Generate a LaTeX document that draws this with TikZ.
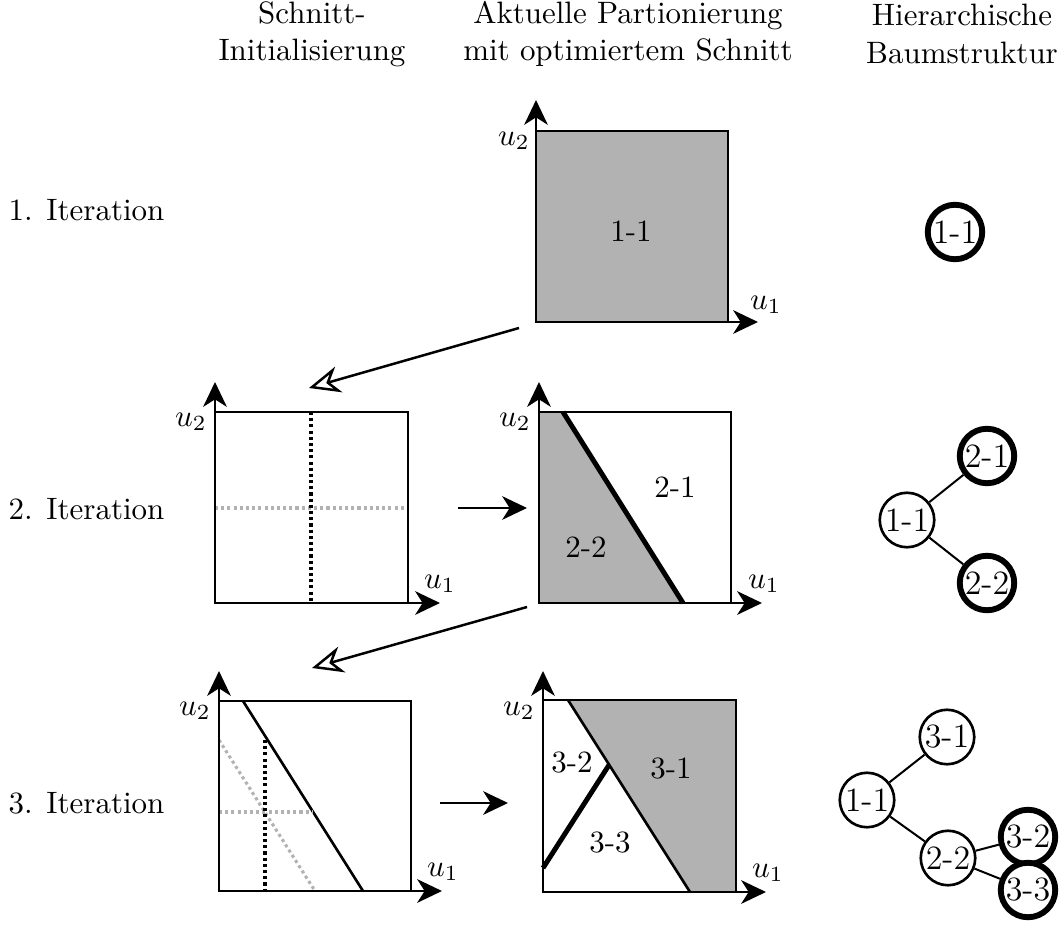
\documentclass[tikz,border=0pt]{standalone}
\usetikzlibrary{arrows.meta}
\begin{document}
\begin{tikzpicture}[x=0.323pt,y=-0.323pt,
  axis/.style={line width=0.95pt,-{Stealth[length=8pt,width=7.6pt,inset=2.4pt]}},
  frame/.style={line width=0.95pt},
  region/.style={fill=gray!60},
  cutthick/.style={line width=1.6pt},
  cutthin/.style={line width=0.85pt},
  guideblack/.style={line width=1pt,densely dotted},
  guidegray/.style={line width=1pt,densely dotted,gray!60},
  nextstep/.style={line width=0.95pt,-{Stealth[length=8pt,width=7.6pt,inset=2.4pt]}},
  backstep/.style={line width=0.8pt,-{Stealth[open,length=10pt,width=8.6pt,inset=3.2pt]}},
  lbl/.style={inner sep=0pt},
  treenode/.style={circle,draw,line width=0.85pt,minimum size=17.6pt,inner sep=0pt,
    fill=white,font=\fontsize{11}{13}\selectfont},
  leafnode/.style={treenode,line width=1.9pt},
  treeedge/.style={line width=0.65pt}]
\useasboundingbox (0,0) rectangle (1060,927);

% column headings
\node[align=center] (h1) at (312,34) {Schnitt-\\Initialisierung};
\node[align=center] (h2) at (628,34) {Aktuelle Partionierung\\mit optimiertem Schnitt};
\node[align=center] (h3) at (962,34) {Hierarchische\\Baumstruktur};

% row headings
\node[lbl,anchor=west] (r1) at (8,210) {1. Iteration};
\node[lbl,anchor=west] (r2) at (8,509) {2. Iteration};
\node[lbl,anchor=west] (r3) at (8,803) {3. Iteration};

% ---------- iteration 1 ----------
\fill[region] (536,131) rectangle (728,322);
\draw[frame] (536,131) rectangle (728,322);
\draw[axis] (536,322) -- (536,100);
\draw[axis] (536,322) -- (758,322);
\node (u2a) at (514,141) {$u_2$};
\node (u1a) at (766,305) {$u_1$};
\node (p11) at (631,231) {1-1};

% ---------- iteration 2, initial cut ----------
\draw[frame] (215,412) rectangle (408,603);
\draw[guidegray] (215,508) -- (405,508);
\draw[guideblack] (311,412) -- (311,603);
\draw[axis] (215,603) -- (215,382);
\draw[axis] (215,603) -- (440,603);
\node (u2b) at (191,422) {$u_2$};
\node (u1b) at (440,584) {$u_1$};

% ---------- iteration 2, optimised cut ----------
\fill[region] (539,412) -- (563,412) -- (683,603) -- (539,603) -- cycle;
\draw[frame] (539,412) rectangle (731,603);
\draw[cutthick] (563,412) -- (683,603);
\draw[axis] (539,603) -- (539,382);
\draw[axis] (539,603) -- (762,603);
\node (u2c) at (515,422) {$u_2$};
\node (u1c) at (764,584) {$u_1$};
\node (p21) at (675,487) {2-1};
\node (p22) at (586,547) {2-2};

% ---------- iteration 3, initial cut ----------
\draw[frame] (219,701) rectangle (411,891);
\draw[cutthin] (243,701) -- (363,891);
\draw[guidegray] (219,740) -- (315,891);
\draw[guidegray] (219,812) -- (313,812);
\draw[guideblack] (265,740) -- (265,891);
\draw[axis] (219,891) -- (219,671);
\draw[axis] (219,891) -- (442,891);
\node (u2d) at (195,711) {$u_2$};
\node (u1d) at (443,872) {$u_1$};

% ---------- iteration 3, optimised cut ----------
\fill[region] (568,700) -- (736,700) -- (736,892) -- (690,892) -- cycle;
\draw[frame] (543,700) rectangle (736,892);
\draw[cutthin] (568,700) -- (690,892);
\draw[cutthick] (543,868) -- (609,765);
\draw[axis] (543,892) -- (543,671);
\draw[axis] (543,892) -- (766,892);
\node (u2e) at (519,711) {$u_2$};
\node (u1e) at (768,873) {$u_1$};
\node (p31) at (671,769) {3-1};
\node (p32) at (572,763) {3-2};
\node (p33) at (610,843) {3-3};

% ---------- step arrows ----------
\coordinate (s1a) at (519,328);
\coordinate (s1b) at (309,388);
\coordinate (s2a) at (527,607);
\coordinate (s2b) at (312,668);
\coordinate (t2a) at (458,508);
\coordinate (t2b) at (527,508);
\coordinate (t3a) at (440,803);
\coordinate (t3b) at (508,803);
\draw[backstep] (s1a) -- (s1b);
\draw[backstep] (s2a) -- (s2b);
\draw[nextstep] (t2a) -- (t2b);
\draw[nextstep] (t3a) -- (t3b);

% ---------- trees ----------
\node[leafnode] (ta11) at (955,232) {1-1};

\node[treenode] (tb11) at (907,520) {1-1};
\node[leafnode] (tb21) at (987,456) {2-1};
\node[leafnode] (tb22) at (987,583) {2-2};
\draw[treeedge] (tb11) -- (tb21);
\draw[treeedge] (tb11) -- (tb22);

\node[treenode] (tc11) at (867,800) {1-1};
\node[treenode] (tc31) at (947,737) {3-1};
\node[treenode] (tc22) at (948,858) {2-2};
\node[leafnode] (tc32) at (1028,837) {3-2};
\node[leafnode] (tc33) at (1028,890) {3-3};
\draw[treeedge] (tc11) -- (tc31);
\draw[treeedge] (tc11) -- (tc22);
\draw[treeedge] (tc22) -- (tc32);
\draw[treeedge] (tc22) -- (tc33);
\end{tikzpicture}
\end{document}
